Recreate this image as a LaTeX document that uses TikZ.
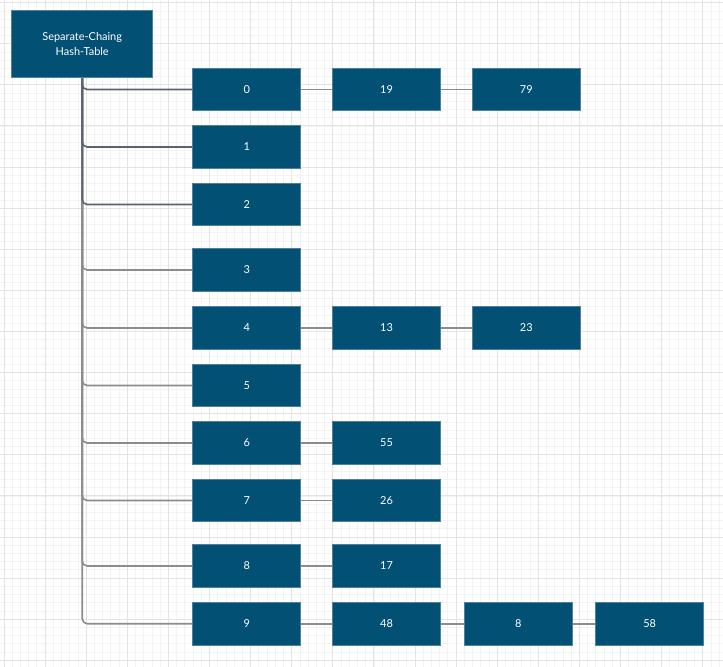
\documentclass[tikz,border=0pt]{standalone}
\usepackage{fontspec}
\setmainfont{Lato}
\usepackage{tikz}
\usetikzlibrary{calc,positioning}
\definecolor{boxblue}{RGB}{2,80,116}
\definecolor{boxedge}{RGB}{80,128,160}
\definecolor{linkgray}{RGB}{140,140,140}
\definecolor{slate}{RGB}{88,98,116}
\definecolor{majorgrid}{RGB}{228,228,228}
\definecolor{minorgrid}{RGB}{243,243,243}
\tikzset{
    cell/.style={draw=boxedge,line width=0.6bp,fill=boxblue,text=white,minimum width=108bp,minimum height=42.5bp,inner sep=0pt,font=\fontsize{11}{13}\selectfont},
    link/.style={draw=linkgray,line width=1.6bp},
    branch/.style={link,rounded corners=5bp}
}

\begin{document}
\begin{tikzpicture}[x=1bp,y=-1bp]
            \useasboundingbox (0,0) rectangle (723,667);
            \fill[white] (0,0) rectangle (723,667);
            % grid
            \foreach \i in {0,...,87} \draw[minorgrid,line width=0.8bp] ({4+8.22*\i},0)--({4+8.22*\i},667);
            \foreach \i in {0,...,80} \draw[minorgrid,line width=0.8bp] (0,{2.7+8.22*\i})--(723,{2.7+8.22*\i});
            \foreach \i in {0,...,17} \draw[majorgrid,line width=1bp] ({4+41.1*\i},0)--({4+41.1*\i},667);
            \foreach \i in {0,...,16} \draw[majorgrid,line width=1bp] (0,{2.7+41.1*\i})--(723,{2.7+41.1*\i});
            % table
            \node[cell,minimum width=141bp,minimum height=67.5bp,align=center,font=\fontsize{11}{16}\selectfont] (hash) at (82.2,44) {Separate-Chaing\\Hash-Table};
            \foreach \k/\y in {0/89.5,1/147,2/204.5,3/270,4/328,5/385.5,6/443,7/500.5,8/566,9/623.7}
                \node[cell] (b\k) at (246.7,\y) {\k};
            % chains
            \node[cell] (c0a) at (386.5,89.5) {19};
            \node[cell] (c0b) at (526.3,89.5) {79};
            \node[cell] (c4a) at (386.5,328) {13};
            \node[cell] (c4b) at (526.3,328) {23};
            \node[cell] (c6a) at (386.5,443) {55};
            \node[cell] (c7a) at (386.5,500.5) {26};
            \node[cell] (c8a) at (386.5,566) {17};
            \node[cell] (c9a) at (386.5,623.7) {48};
            \node[cell] (c9b) at (518.2,623.7) {8};
            \node[cell] (c9c) at (649.7,623.7) {58};
            % branches
            \foreach \k in {9,8,...,3}
                \draw[branch] (hash.south) |- (b\k.west);
            \foreach \k in {0,1,2}
                \draw[branch,draw=slate] (hash.south) |- (b\k.west);
            \draw[link] (b0)--(c0a) (c0a)--(c0b);
            \draw[link] (b4)--(c4a) (c4a)--(c4b);
            \draw[link] (b6)--(c6a);
            \draw[link] (b7)--(c7a);
            \draw[link] (b8)--(c8a);
            \draw[link] (b9)--(c9a) (c9a)--(c9b) (c9b)--(c9c);
        \end{tikzpicture}
\end{document}
